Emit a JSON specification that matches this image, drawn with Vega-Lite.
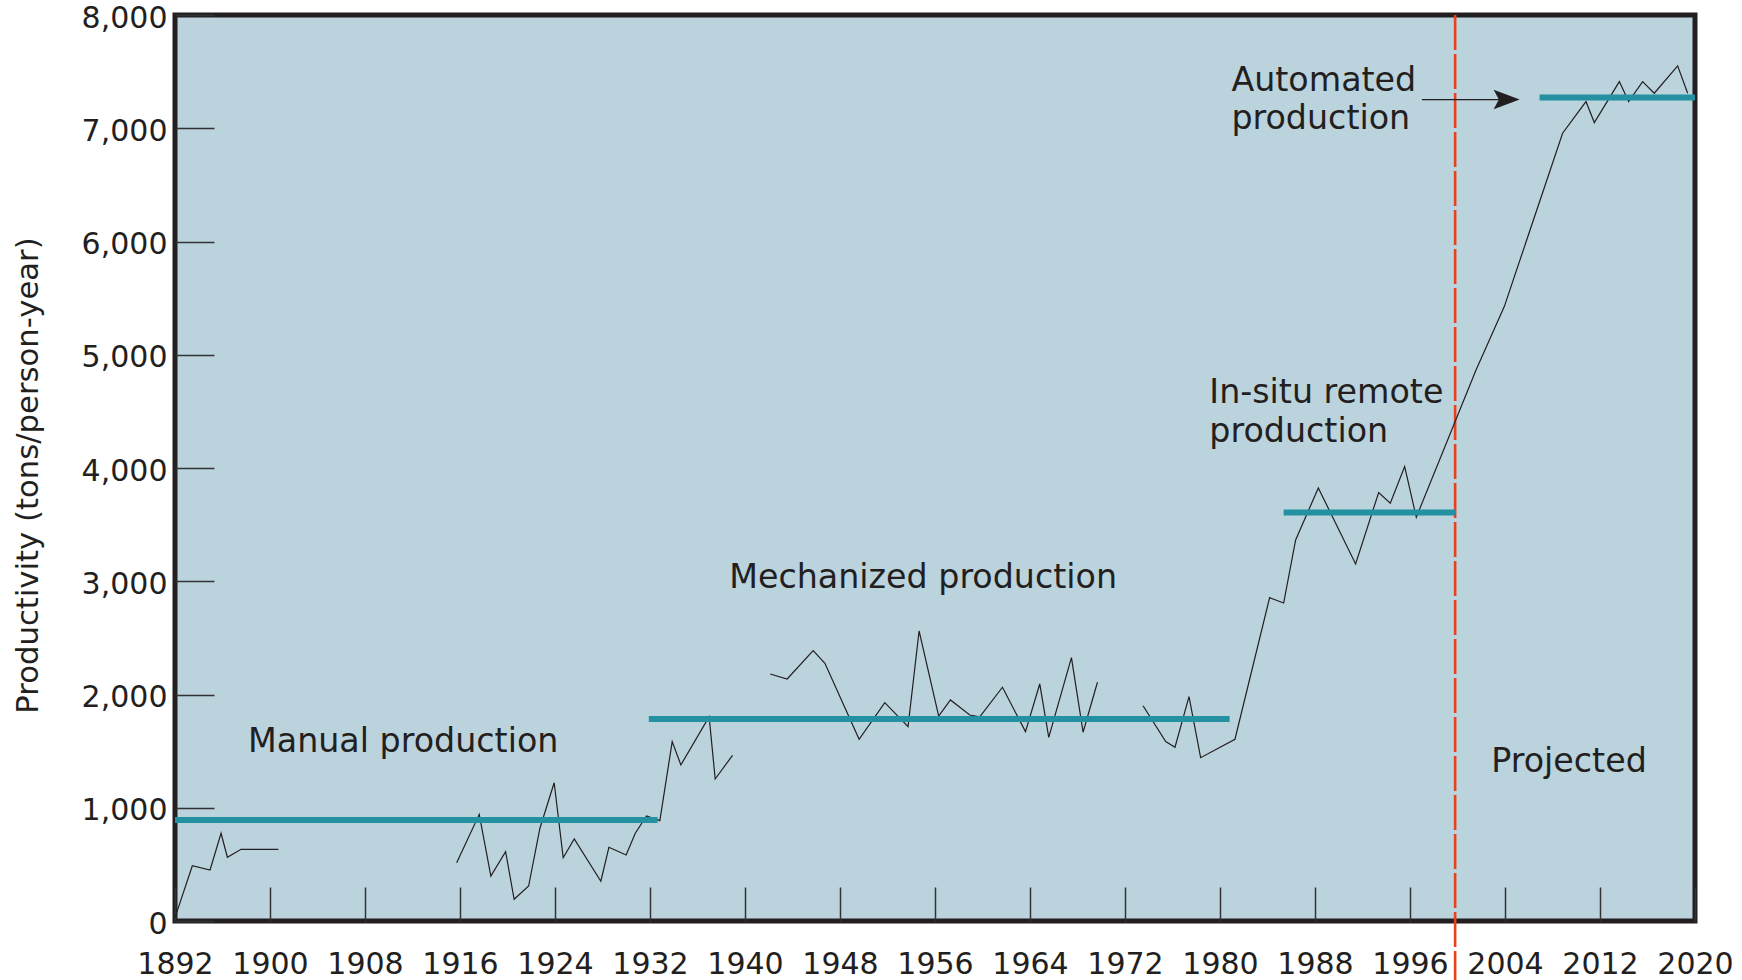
{
  "$schema": "https://vega.github.io/schema/vega-lite/v6.json",
  "width": 1520,
  "height": 906,
  "autosize": {"type": "none"},
  "padding": {"left": 175, "top": 15, "right": 47, "bottom": 59},
  "background": "#ffffff",
  "config": {
    "view": {"fill": "#bbd3dd", "stroke": "#231f20", "strokeWidth": 5},
    "font": "DejaVu Sans"
  },
  "encoding": {
    "x": {
      "field": "year", "type": "quantitative",
      "scale": {"domain": [1892, 2020], "nice": false, "zero": false},
      "axis": {
        "values": [1892, 1900, 1908, 1916, 1924, 1932, 1940, 1948, 1956, 1964, 1972, 1980, 1988, 1996, 2004, 2012, 2020],
        "format": "d", "domain": false, "grid": false,
        "tickSize": -34, "tickWidth": 1.5, "tickColor": "#333333",
        "labelFont": "DejaVu Sans", "labelFontSize": 30, "labelColor": "#231f20",
        "labelPadding": 86, "labelBaseline": "alphabetic",
        "labelFlush": false, "labelOverlap": false, "labelBound": false,
        "title": null
      }
    },
    "y": {
      "field": "v", "type": "quantitative",
      "scale": {"domain": [0, 8000], "nice": false, "zero": true},
      "axis": {
        "values": [0, 1000, 2000, 3000, 4000, 5000, 6000, 7000, 8000],
        "format": ",.0f", "domain": false, "grid": false,
        "tickSize": -39, "tickWidth": 1.5, "tickColor": "#333333",
        "labelFont": "DejaVu Sans", "labelFontSize": 30, "labelColor": "#231f20",
        "labelPadding": 47, "labelBaseline": "middle", "labelAlign": "right", "labelOffset": 3,
        "labelOverlap": false, "labelBound": false, "labelFlush": false,
        "title": "Productivity (tons/person-year)",
        "titleFont": "DejaVu Sans", "titleFontSize": 30.7, "titleFontWeight": "normal",
        "titleColor": "#231f20", "titleX": -147, "titleY": 460,
        "titleBaseline": "middle", "titleAngle": 270, "titleAlign": "center"
      }
    }
  },
  "layer": [
    {
      "data": {"values": [{"year": 1999.8, "v": 8000, "v2": -530}]},
      "mark": {"type": "rule", "color": "#e8411b", "strokeWidth": 2.6, "strokeDash": [35, 4]},
      "encoding": {"y2": {"field": "v2"}}
    },
    {
      "data": {"values": [
        {"seg": 1, "year": 1892.0, "v": 30}, {"seg": 1, "year": 1893.46, "v": 488}, {"seg": 1, "year": 1894.95, "v": 450}, {"seg": 1, "year": 1895.88, "v": 775}, {"seg": 1, "year": 1896.41, "v": 563}, {"seg": 1, "year": 1897.56, "v": 633}, {"seg": 1, "year": 1900.70, "v": 633},
        {"seg": 2, "year": 1915.72, "v": 515}, {"seg": 2, "year": 1917.62, "v": 942}, {"seg": 2, "year": 1918.60, "v": 397}, {"seg": 2, "year": 1919.84, "v": 612}, {"seg": 2, "year": 1920.56, "v": 192}, {"seg": 2, "year": 1921.78, "v": 309}, {"seg": 2, "year": 1922.73, "v": 819}, {"seg": 2, "year": 1923.93, "v": 1221}, {"seg": 2, "year": 1924.69, "v": 559}, {"seg": 2, "year": 1925.62, "v": 724}, {"seg": 2, "year": 1927.86, "v": 351}, {"seg": 2, "year": 1928.54, "v": 651}, {"seg": 2, "year": 1929.99, "v": 583}, {"seg": 2, "year": 1930.76, "v": 775}, {"seg": 2, "year": 1931.71, "v": 927}, {"seg": 2, "year": 1932.83, "v": 886}, {"seg": 2, "year": 1933.87, "v": 1584}, {"seg": 2, "year": 1934.60, "v": 1378}, {"seg": 2, "year": 1936.98, "v": 1804}, {"seg": 2, "year": 1937.49, "v": 1254}, {"seg": 2, "year": 1938.95, "v": 1463},
        {"seg": 3, "year": 1942.12, "v": 2181}, {"seg": 3, "year": 1943.55, "v": 2137}, {"seg": 3, "year": 1945.74, "v": 2387}, {"seg": 3, "year": 1946.73, "v": 2276}, {"seg": 3, "year": 1949.61, "v": 1605}, {"seg": 3, "year": 1951.77, "v": 1928}, {"seg": 3, "year": 1953.73, "v": 1716}, {"seg": 3, "year": 1954.66, "v": 2561}, {"seg": 3, "year": 1956.31, "v": 1810}, {"seg": 3, "year": 1957.30, "v": 1952}, {"seg": 3, "year": 1958.93, "v": 1819}, {"seg": 3, "year": 1959.77, "v": 1802}, {"seg": 3, "year": 1961.68, "v": 2064}, {"seg": 3, "year": 1963.62, "v": 1672}, {"seg": 3, "year": 1964.82, "v": 2093}, {"seg": 3, "year": 1965.58, "v": 1622}, {"seg": 3, "year": 1967.49, "v": 2325}, {"seg": 3, "year": 1968.47, "v": 1667}, {"seg": 3, "year": 1969.68, "v": 2108},
        {"seg": 4, "year": 1973.52, "v": 1901}, {"seg": 4, "year": 1975.43, "v": 1584}, {"seg": 4, "year": 1976.21, "v": 1534}, {"seg": 4, "year": 1977.39, "v": 1981}, {"seg": 4, "year": 1978.37, "v": 1442}, {"seg": 4, "year": 1981.26, "v": 1605}, {"seg": 4, "year": 1984.18, "v": 2855}, {"seg": 4, "year": 1985.36, "v": 2808}, {"seg": 4, "year": 1986.37, "v": 3365}, {"seg": 4, "year": 1988.28, "v": 3824}, {"seg": 4, "year": 1991.42, "v": 3153}, {"seg": 4, "year": 1993.36, "v": 3783}, {"seg": 4, "year": 1994.34, "v": 3689}, {"seg": 4, "year": 1995.55, "v": 4012}, {"seg": 4, "year": 1996.53, "v": 3565}, {"seg": 4, "year": 2001.56, "v": 4866}, {"seg": 4, "year": 2003.94, "v": 5425}, {"seg": 4, "year": 2008.85, "v": 6956}, {"seg": 4, "year": 2010.82, "v": 7236}, {"seg": 4, "year": 2011.52, "v": 7050}, {"seg": 4, "year": 2013.63, "v": 7412}, {"seg": 4, "year": 2014.41, "v": 7236}, {"seg": 4, "year": 2015.59, "v": 7412}, {"seg": 4, "year": 2016.57, "v": 7309}, {"seg": 4, "year": 2018.54, "v": 7551}, {"seg": 4, "year": 2019.38, "v": 7309}
      ]},
      "mark": {"type": "line", "color": "#231f20", "strokeWidth": 1.2},
      "encoding": {"detail": {"field": "seg", "type": "nominal"}}
    },
    {
      "data": {"values": [
        {"stage": "Manual", "year": 1892, "year2": 1932.64, "v": 892},
        {"stage": "Mechanized", "year": 1931.9, "year2": 1980.81, "v": 1784},
        {"stage": "In-situ remote", "year": 1985.36, "year2": 1999.8, "v": 3606},
        {"stage": "Automated", "year": 2006.91, "year2": 2020, "v": 7271}
      ]},
      "mark": {"type": "rule", "color": "#2391a2", "strokeWidth": 6, "strokeCap": "butt"},
      "encoding": {"x2": {"field": "year2"}}
    },
    {
      "data": {"values": [{"year": 1997.0, "year2": 2003.6, "v": 7253}]},
      "mark": {"type": "rule", "color": "#231f20", "strokeWidth": 1.3},
      "encoding": {"x2": {"field": "year2"}}
    },
    {
      "data": {"values": [{"year": 2004.14, "v": 7253}]},
      "mark": {"type": "point", "shape": "M1,0L-1,-0.75L-0.6,0L-1,0.75Z", "size": 676, "filled": true, "color": "#231f20", "opacity": 1, "strokeWidth": 0}
    },
    {
      "data": {"values": [
        {"label": "Manual production", "year": 1898.15, "v": 1495},
        {"label": "Mechanized production", "year": 1938.67, "v": 2938},
        {"label": "In-situ remote\nproduction", "year": 1979.1, "v": 4572},
        {"label": "Automated\nproduction", "year": 1980.96, "v": 7333},
        {"label": "Projected", "year": 2002.84, "v": 1319}
      ]},
      "mark": {"type": "text", "align": "left", "baseline": "alphabetic", "font": "DejaVu Sans", "fontSize": 33.3, "color": "#231f20", "lineBreak": "\n", "lineHeight": 38.6},
      "encoding": {"text": {"field": "label"}}
    }
  ]
}
